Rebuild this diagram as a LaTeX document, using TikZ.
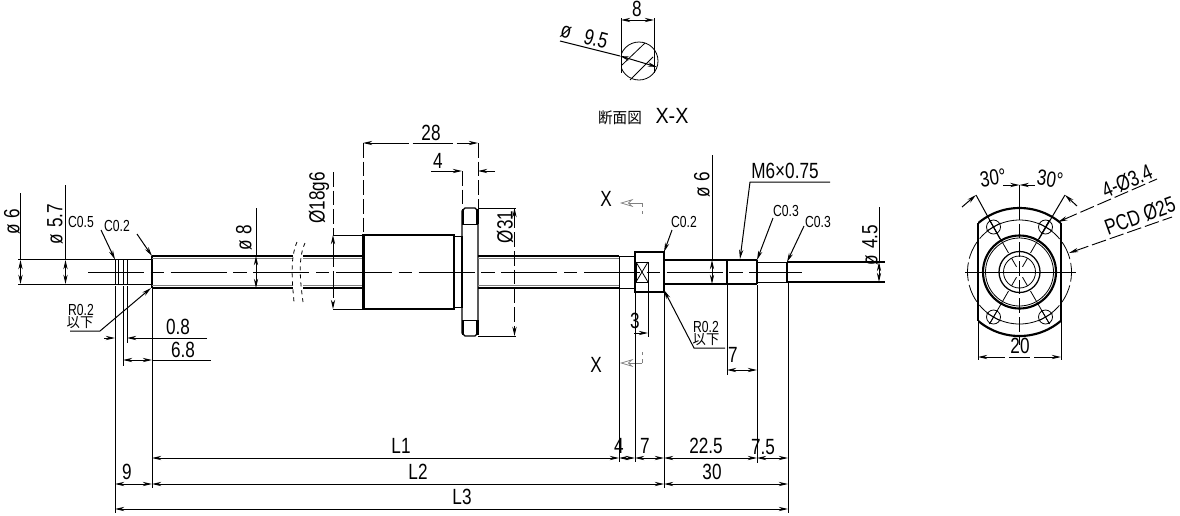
\documentclass[tikz,border=0pt]{standalone}
\usepackage{fontspec}
\setmainfont{Liberation Sans}
\newfontfamily\cjk{Noto Sans CJK JP}
\usetikzlibrary{arrows.meta}

\begin{document}
\begin{tikzpicture}[
x=0.75pt, y=-0.75pt,
   >={Stealth[length=7pt,width=3.2pt]},
  thn/.style = {line width=0.6pt},
  otl/.style = {line width=0.95pt},
  fat/.style = {line width=1.6pt},
  gry/.style = {line width=0.7pt, gray},
  ext/.style = {line width=0.75pt},
  dsh/.style = {line width=0.7pt, dash pattern=on 11pt off 3pt},
  ctr/.style = {line width=0.75pt, dash pattern=on 42pt off 5pt on 10pt off 5pt},
  dmn/.style = {line width=0.75pt, <->},
  ldr/.style = {line width=0.75pt, ->},
  big/.style = {inner sep=0pt, font=\fontsize{16.5}{16.5}\selectfont, xscale=0.78, transform shape},
  sml/.style = {inner sep=0pt, font=\fontsize{12}{12}\selectfont, xscale=0.76, transform shape},
  kan/.style = {inner sep=0pt, font=\cjk\fontsize{10.5}{10.5}\selectfont, xscale=0.95, transform shape},
  opn/.style = {line width=0.55pt, gray}
                        ]
\useasboundingbox (0,0) rectangle (1180,515);

    % shaft, left part
\draw[otl] (18,259.5) -- (115,259.5) (18,284.5) -- (115,284.5);
\draw[thn] (115,259.5) -- (152,259.5) (115,284.5) -- (152,284.5);
\foreach \gx in {115,118,123,127}
  \draw[thn] (\gx,259.5) -- (\gx,284.5);
\draw[otl] (152,256) -- (152,288);
\draw[otl] (152,256) -- (293,256) (152,288) -- (293,288);
\draw[gry] (152,258.5) -- (293,258.5) (152,285.5) -- (293,285.5);
    % break
\draw[thn,dashed] (297,242) .. controls (290,258) and (292,280) .. (294,302);
\draw[thn,dashed] (305,243) .. controls (298,258) and (300,280) .. (303,302);
\draw[otl] (303,256) -- (363,256) (303,288) -- (363,288);
\draw[gry] (303,258.5) -- (363,258.5) (303,285.5) -- (363,285.5);

    % nut and flange
\draw[otl] (363,235) rectangle (454,309);
\draw[fat] (364,235) -- (364,309);
\draw[otl] (454,236.5) rectangle (462,307.5);
\draw[otl] (465,208) -- (475,208) -- (478,211) -- (478,333) -- (475,336)
           -- (465,336) -- (462,333) -- (462,211) -- cycle;
\draw[fat] (463,209) -- (463,224) (463,320) -- (463,335)
           (477.5,209) -- (477.5,224) (477.5,320) -- (477.5,335);
\draw[thn] (462,224) -- (478,224) (462,320) -- (478,320);

    % shaft, right part
\draw[otl] (478,256) -- (619,256) (478,288) -- (619,288);
\draw[gry] (478,258.5) -- (619,258.5) (478,285.5) -- (619,285.5);
\draw[thn] (619,256) rectangle (635,288);
\draw[otl] (635,252) rectangle (664,292);
\draw[thn] (636,262) rectangle (648,282);
\draw[thn] (636,262) -- (648,282) (636,282) -- (648,262);
\draw[otl] (664,260) -- (727,260) (664,284) -- (727,284);
\draw[fat] (727,260) -- (757,260) (727,284) -- (757,284);
\draw[otl] (727,260) -- (727,284) (757,260) -- (757,284);
\draw[thn] (757,262) -- (787,262) (757,282) -- (787,282);
\draw[otl] (787,262) -- (787,282);
\draw[otl] (787,262) -- (885,262) (787,282) -- (885,282);

    % center line
\draw[ctr] (88,272) -- (802,272);

    % section X-X
\begin{scope}
  \clip (621,30) rectangle (670,90);
  \draw[thn] (639,61) circle (19);
\end{scope}
\draw[thn] (621,48) -- (621,73) (654,48) -- (654,73);
\draw[thn] (622,65) -- (645,43) (630,80) -- (653,57);
\draw[ext] (621,18) -- (621,50) (654,18) -- (654,48);
\draw[dmn] (621,20) -- (654,20);
\draw[ext] (560,41) -- (620,56);
\draw[dmn] (620,56) -- (657,67);
\node (secw)  [big] at (637,9)  {8};
\node (secp)  [rotate=-15,big] at (566,32)  {ø};
\node (secd)  [rotate=-15,big] at (596,39)  {9.5};
\node (sect)  [kan,font=\cjk\fontsize{11.5}{11.5}\selectfont] at (620,118) {断面図};
\node (secx)  [big,xscale=1.15] at (672,116) {X-X};

    % diameters
\draw[ext] (20.5,193) -- (20.5,259);
\draw[dmn] (20.5,260) -- (20.5,284);
\draw[ext] (65.5,185) -- (65.5,259);
\draw[dmn] (65.5,260) -- (65.5,284);
\draw[ext] (256,208) -- (256,256);
\draw[dmn] (256,256) -- (256,288);
\draw[dsh] (333,172) -- (333,235);
\draw[dmn,dash pattern=on 20pt off 3pt] (333,235) -- (333,309);
\draw[ext] (333,235) -- (363,235) (333,309) -- (363,309);
\draw[dsh,<->] (514.5,208) -- (514.5,336);
\draw[ext] (478,208) -- (516,208) (478,336) -- (516,336);
\draw[ext] (712,155) -- (712,260);
\draw[dmn] (712,260) -- (712,284);
\draw[ext] (879,207) -- (879,262);
\draw[dmn] (879,262) -- (879,282);
\node (dia6l)  [rotate=90,big] at (12,222)  {ø\,\,6};
\node (dia57)  [rotate=90,big] at (55,224)  {ø\,\,5.7};
\node (dia8)   [rotate=90,big] at (244,238) {ø\,\,8};
\node (dia18)  [rotate=90,big] at (319,198) {Ø18g6};
\node (dia31)  [rotate=90,big] at (505,227) {Ø31};
\node (dia6r)  [rotate=90,big] at (702,185) {ø\,\,6};
\node (dia45)  [rotate=90,big] at (870,245) {ø\,\,4.5};

    % nut lengths
\draw[dsh] (363,143) -- (363,235) (478,143) -- (478,208) (462,171) -- (462,208);
\draw[dmn,dash pattern=on 30pt off 3pt] (363,143) -- (478,143);
\draw[ldr] (431,171) -- (462,171);
\draw[ldr] (495,171) -- (478,171);
\node (nut28) [big] at (431,133) {28};
\node (nut4)  [big] at (438,161) {4};

    % section marks
\draw[opn,->,>={Stealth[open,length=10pt,width=6pt]}] (642,203) -- (620,203);
\draw[opn,dashed] (642,203) -- (642,214);
\draw[opn,->,>={Stealth[open,length=10pt,width=6pt]}] (642,363) -- (620,363);
\draw[opn,dashed] (642,363) -- (642,352);
\node (xup) [big] at (606,199) {X};
\node (xlo) [big] at (596,365) {X};

    % leaders
\draw[ldr] (101,230) -- (115,259.5);
\draw[ldr] (137,234) -- (152,256);
\draw[ldr] (70,331) -- (100,331) -- (151,288);
\draw[ldr] (672,230) -- (664,252);
\draw[ldr] (725,348) -- (694,348) -- (664,290);
\draw[ldr] (830,182) -- (750,182) -- (740,259);
\draw[ldr] (773,218) -- (757,260);
\draw[ldr] (804,226) -- (787,262);
\node (c05)  [sml] at (81,222)  {C0.5};
\node (c02l) [sml] at (117,226) {C0.2};
\node (r02l) [sml] at (81,310)  {R0.2};
\node (kal)  [kan] at (80,323)  {以下};
\node (c02r) [sml] at (684,222) {C0.2};
\node (r02r) [sml] at (706,327) {R0.2};
\node (kar)  [kan] at (706,340) {以下};
\node (c03a) [sml] at (786,211) {C0.3};
\node (c03b) [sml] at (818,222) {C0.3};
\node (m6)   [big] at (785,171) {M6×0.75};

    % extension lines
\draw[ext] (115,286) -- (115,513) (123,286) -- (123,366) (127,286) -- (127,343)
           (152,289) -- (152,488) (619,288) -- (619,462) (635,292) -- (635,462)
           (664,292) -- (664,488) (727,285) -- (727,375) (757,285) -- (757,463)
           (788,283) -- (788,513) (648,282) -- (648,337);

    % small lengths
\draw[ldr] (104,338) -- (115,338);
\draw[ldr] (207,338) -- (127,338);
\draw[dmn] (123,360) -- (152,360);
\draw[ext] (152,360) -- (211,360);
\draw[ldr] (634,333) -- (648,333);
\draw[dmn] (727,370) -- (757,370);
\node (len08) [big] at (178,327) {0.8};
\node (len68) [big] at (183,350) {6.8};
\node (len3)  [big] at (635,321) {3};
\node (len7)  [big] at (733,355) {7};

    % length chain
\draw[dmn] (152,458) -- (619,458);
\draw[dmn] (619,458) -- (635,458);
\draw[dmn] (635,458) -- (664,458);
\draw[dmn] (664,458) -- (757,458);
\draw[dmn] (757,458) -- (788,458);
\draw[dmn] (152,484) -- (664,484);
\draw[dmn] (664,484) -- (788,484);
\draw[dmn] (115,484) -- (152,484);
\draw[dmn] (115,509) -- (788,509);
\node (lenl1) [big] at (401,446) {L1};
\node (lenl2) [big] at (418,472) {L2};
\node (lenl3) [big] at (462,497) {L3};
\node (len9)  [big] at (127,472) {9};
\node (len4)  [big] at (619,446) {4};
\node (len7b) [big] at (645,446) {7};
\node (len22) [big] at (706,446) {22.5};
\node (len75) [big] at (763,447) {7.5};
\node (len30) [big] at (712,472) {30};

    % end view
\begin{scope}
  \clip (978,200) rectangle (1061,345);
  \draw[fat] (1019.5,272) circle (64);
\end{scope}
\draw[otl] (978,223) -- (978,321) (1061,223) -- (1061,321);
\draw[fat] (1019.5,272) circle (36.5);
\draw[thn] (1019.5,272) circle (34);
\draw[otl] (1019.5,272) circle (20.5);
\draw[thn] (1019.5,272) circle (16);
\draw[thn] (1019.5,272) ++(60:52) arc (60:120:52);
\draw[thn] (1019.5,272) ++(240:52) arc (240:300:52);
\draw[thn,dash pattern=on 14pt off 3pt] (1019.5,272) ++(-60:52) arc (-60:60:52);
\draw[thn,dash pattern=on 14pt off 3pt] (1019.5,272) ++(120:52) arc (120:240:52);
\foreach \hx/\hy/\hang in {993.5/227/30, 1045.5/227/-30, 993.5/317/-30, 1045.5/317/30}{
  \draw[thn] (\hx,\hy) circle (7);
  \draw[thn,rotate around={\hang:(\hx,\hy)}] (\hx-8,\hy) -- (\hx+8,\hy) (\hx,\hy-8) -- (\hx,\hy+8);
}
    % end view center lines
\draw[ext] (965,272) -- (1076,272);
\draw[ext] (1019.5,185) -- (1019.5,205);
\draw[dsh] (1019.5,205) -- (1019.5,345);
\foreach \rang in {60,120,240,300}
  \draw[thn,dash pattern=on 0pt off 4.5pt on 7.5pt off 4.5pt on 30pt] (1019.5,272) -- +(\rang:60);
\draw[ext] (976,195) -- (1000,239) (1065,195) -- (1039,239);

    % end view dimensions
\draw[ldr] (1003,185) -- (1019.5,185);
\draw[ldr] (1035,185) -- (1019.5,185);
\draw[ldr] (962,207) -- (976,195);
\draw[ldr] (1077,206) -- (1065,195);
\draw[ext] (978,321) -- (978,360) (1061,321) -- (1061,360);
\draw[dmn,dash pattern=on 16pt off 3pt] (978,357) -- (1061,357);
\node (ang30a) [rotate=8,big]  at (993,178)  {30°};
\node (ang30b) [rotate=-8,big] at (1050,179) {30°};
\node (wid20)  [big] at (1020,346) {20};
\draw[dsh,<-] (1058,222) -- (1157,179);
\draw[dsh,<-] (1069,253) -- (1172,217);
\node (hol4)  [rotate=23,big] at (1127,181) {4-Ø3.4};
\node (pcd25) [rotate=20,big] at (1140,216) {PCD Ø25};
\end{tikzpicture}
\end{document}
